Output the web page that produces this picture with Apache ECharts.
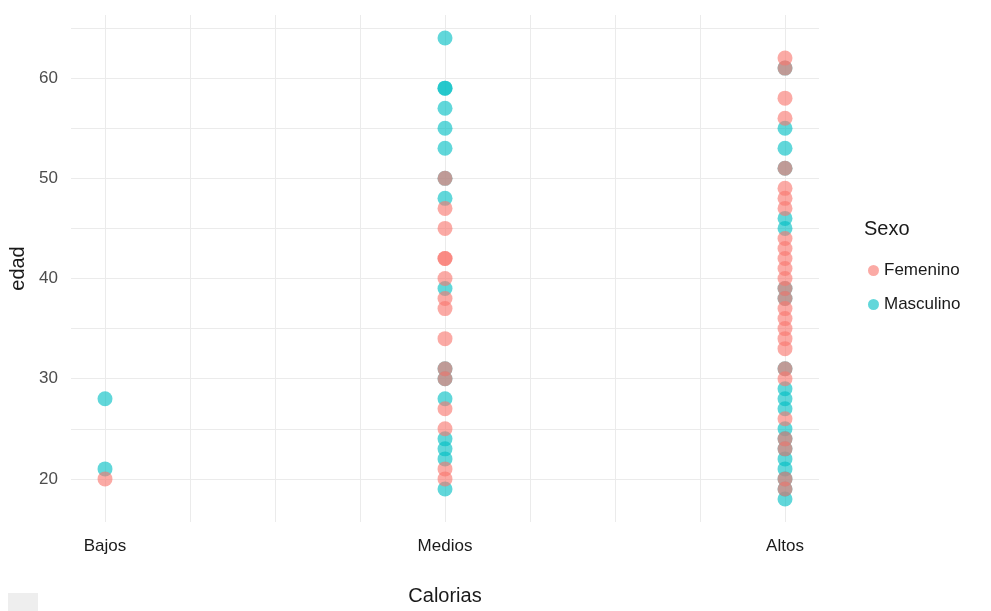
<!DOCTYPE html>
<html>
<head>
<meta charset="utf-8">
<script src="https://cdn.jsdelivr.net/npm/echarts@6/dist/echarts.min.js"></script>
<style>html,body{margin:0;padding:0;background:#fff;}#c{width:991px;height:611px;}</style>
</head>
<body>
<div id="c"></div>
<script>
// Categories (x positions 0,1,2)
var categories = ['Bajos', 'Medios', 'Altos'];
// Ages per category and sex
var femBajos = [20];
var mascBajos = [28, 21];
var femMedios = [50, 47, 45, 42, 42, 40, 38, 37, 34, 31, 30, 27, 25, 21, 20];
var mascMedios = [64, 59, 59, 57, 55, 53, 50, 48, 39, 31, 30, 28, 24, 23, 22, 19];
var femAltos = [62, 61, 58, 56, 51, 49, 48, 47, 44, 43, 42, 41, 40, 39, 38, 37, 36, 35, 34, 33, 31, 30, 26, 24, 23, 20, 19];
var mascAltos = [61, 55, 53, 51, 46, 45, 39, 38, 31, 29, 28, 27, 25, 24, 23, 22, 21, 20, 19, 18];
// Tick labels
var yTicks = [20, 30, 40, 50, 60];
var xTicks = [0, 1, 2];
// Gridline positions
var xGrid = [0, 0.25, 0.5, 0.75, 1, 1.25, 1.5, 1.75, 2];
var yGrid = [20, 25, 30, 35, 40, 45, 50, 55, 60, 65];

function pts(catIdx, arr) { return arr.map(function (v) { return [catIdx, v]; }); }
var femData = [].concat(pts(0, femBajos), pts(1, femMedios), pts(2, femAltos));
var mascData = [].concat(pts(0, mascBajos), pts(1, mascMedios), pts(2, mascAltos));

var FONT = '"Liberation Sans", Arial, sans-serif';
var gridLineStyle = { color: '#ebebeb', width: 1, type: 'solid' };
var markData = xGrid.map(function (v) { return { xAxis: v }; })
  .concat(yGrid.map(function (v) { return { yAxis: v }; }));

var chart = echarts.init(document.getElementById('c'), null, { renderer: 'canvas' });
chart.setOption({
  animation: false,
  backgroundColor: '#ffffff',
  textStyle: { fontFamily: FONT },
  grid: { left: 71, top: 15, width: 748, height: 508, containLabel: false },
  xAxis: {
    type: 'value', min: -0.1, max: 2.1,
    axisLine: { show: false }, axisTick: { show: false }, splitLine: { show: false },
    axisLabel: {
      customValues: xTicks, margin: 16, color: '#1a1a1a', fontSize: 17, fontFamily: FONT,
      formatter: function (v) { return categories[Math.round(v)]; }
    },
    name: 'Calorias', nameLocation: 'middle', nameGap: 64,
    nameTextStyle: { color: '#1a1a1a', fontSize: 20, fontFamily: FONT }
  },
  yAxis: {
    type: 'value', min: 15.7, max: 66.3,
    axisLine: { show: false }, axisTick: { show: false }, splitLine: { show: false },
    axisLabel: { customValues: yTicks, margin: 13, color: '#4d4d4d', fontSize: 17, fontFamily: FONT },
    name: 'edad', nameLocation: 'middle', nameGap: 43, nameRotate: 90,
    nameTextStyle: { color: '#1a1a1a', fontSize: 20, fontFamily: FONT }
  },
  legend: {
    orient: 'vertical', left: 863, top: 257, itemGap: 17,
    icon: 'circle', itemWidth: 11, itemHeight: 11,
    data: ['Femenino', 'Masculino'],
    textStyle: { color: '#1a1a1a', fontSize: 17, fontFamily: FONT }
  },
  graphic: [
    { type: 'text', left: 864, top: 219, style: { text: 'Sexo', fontSize: 20, fontFamily: FONT, fill: '#1a1a1a' } },
    { type: 'rect', shape: { x: 8, y: 593, width: 30, height: 18 }, style: { fill: '#eeeeee' } }
  ],
  series: [
    {
      name: 'grid', type: 'scatter', data: [], silent: true, z: 0,
      markLine: { silent: true, symbol: 'none', label: { show: false }, lineStyle: gridLineStyle, data: markData, z: 0, animation: false }
    },
    {
      name: 'Masculino', type: 'scatter', data: mascData, symbol: 'circle', symbolSize: 15,
      itemStyle: { color: '#00BFC4', opacity: 0.62 }, z: 3
    },
    {
      name: 'Femenino', type: 'scatter', data: femData, symbol: 'circle', symbolSize: 15,
      itemStyle: { color: '#F8766D', opacity: 0.62 }, z: 4
    }
  ]
});
</script>
</body>
</html>
